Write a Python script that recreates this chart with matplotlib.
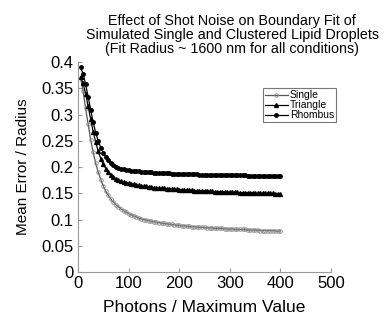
import numpy as np
import matplotlib
matplotlib.use('Agg')
import matplotlib.pyplot as plt

plt.rcParams['font.family'] = ['Liberation Sans', 'DejaVu Sans']

# photons / maximum value (step 5)
photons = np.arange(5, 401, 5)

single = [0.370, 0.345, 0.312, 0.282, 0.252, 0.228, 0.207, 0.190, 0.176, 0.164,
          0.154, 0.146, 0.139, 0.133, 0.128, 0.124, 0.120, 0.117, 0.114, 0.111,
          0.109, 0.107, 0.105, 0.103, 0.101, 0.100, 0.099, 0.098, 0.097, 0.096,
          0.095, 0.094, 0.093, 0.093, 0.092, 0.091, 0.091, 0.090, 0.089, 0.089,
          0.088, 0.088, 0.087, 0.087, 0.086, 0.086, 0.086, 0.085, 0.085, 0.085,
          0.084, 0.084, 0.084, 0.083, 0.083, 0.083, 0.083, 0.082, 0.082, 0.082,
          0.082, 0.081, 0.081, 0.081, 0.081, 0.081, 0.080, 0.080, 0.080, 0.080,
          0.080, 0.079, 0.079, 0.079, 0.079, 0.079, 0.079, 0.078, 0.078, 0.078]

triangle = [0.372, 0.360, 0.340, 0.316, 0.291, 0.267, 0.247, 0.230, 0.216, 0.205,
            0.197, 0.190, 0.185, 0.181, 0.178, 0.175, 0.173, 0.171, 0.170, 0.169,
            0.168, 0.167, 0.166, 0.165, 0.164, 0.163, 0.163, 0.162, 0.162, 0.161,
            0.161, 0.160, 0.160, 0.160, 0.159, 0.159, 0.158, 0.158, 0.158, 0.157,
            0.157, 0.157, 0.156, 0.156, 0.156, 0.155, 0.155, 0.155, 0.155, 0.154,
            0.154, 0.154, 0.154, 0.153, 0.153, 0.153, 0.153, 0.153, 0.152, 0.152,
            0.152, 0.152, 0.152, 0.151, 0.151, 0.151, 0.151, 0.151, 0.151, 0.150,
            0.150, 0.150, 0.150, 0.150, 0.150, 0.150, 0.150, 0.149, 0.149, 0.149]

rhombus = [0.390, 0.378, 0.358, 0.334, 0.309, 0.285, 0.265, 0.250, 0.237, 0.227,
           0.219, 0.213, 0.208, 0.204, 0.201, 0.199, 0.197, 0.196, 0.195, 0.194,
           0.193, 0.193, 0.192, 0.192, 0.191, 0.191, 0.190, 0.190, 0.190, 0.189,
           0.189, 0.189, 0.188, 0.188, 0.188, 0.188, 0.187, 0.187, 0.187, 0.187,
           0.187, 0.186, 0.186, 0.186, 0.186, 0.186, 0.186, 0.185, 0.185, 0.185,
           0.185, 0.185, 0.185, 0.185, 0.185, 0.184, 0.184, 0.184, 0.184, 0.184,
           0.184, 0.184, 0.184, 0.184, 0.184, 0.184, 0.183, 0.183, 0.183, 0.183,
           0.183, 0.183, 0.183, 0.183, 0.183, 0.183, 0.183, 0.183, 0.183, 0.183]

fig = plt.figure(figsize=(3.9, 3.2), dpi=100)
ax = fig.add_axes([0.2, 0.15, 0.649, 0.656])

ax.plot(photons, single, color='#555555', linewidth=0.9, marker='o', markersize=2.6,
        markerfacecolor='none', markeredgecolor='#888888', markeredgewidth=0.6, label='Single')
ax.plot(photons, triangle, color='black', linewidth=0.9, marker='^', markersize=2.8,
        label='Triangle')
ax.plot(photons, rhombus, color='black', linewidth=0.9, marker='o', markersize=2.5,
        label='Rhombus')

ax.set_xlim(0, 500)
ax.set_ylim(0, 0.4)
ax.set_xticks([0, 100, 200, 300, 400, 500])
ax.set_yticks([0, 0.05, 0.1, 0.15, 0.2, 0.25, 0.3, 0.35, 0.4])
ax.set_yticklabels(['0', '0.05', '0.1', '0.15', '0.2', '0.25', '0.3', '0.35', '0.4'])
ax.tick_params(direction='in', length=3, color='#999999', labelsize=12, pad=3)
for s in ['top', 'right']:
    ax.spines[s].set_visible(False)
for s in ['left', 'bottom']:
    ax.spines[s].set_color('#999999')
    ax.spines[s].set_linewidth(0.8)

ax.set_xlabel('Photons / Maximum Value', fontsize=12.5, labelpad=6)
ax.set_ylabel('Mean Error / Radius', fontsize=11, labelpad=8)
fig.text(0.595, 0.955, 'Effect of Shot Noise on Boundary Fit of\n'
         'Simulated Single and Clustered Lipid Droplets\n'
         '(Fit Radius ~ 1600 nm for all conditions)', fontsize=10.3, linespacing=1.0,
         ha='center', va='top')

leg = ax.legend(loc='upper left', bbox_to_anchor=(0.73, 0.875), fontsize=7.5, frameon=True,
                fancybox=False, handlelength=2.2, handletextpad=0.2, borderpad=0.2,
                labelspacing=0.0, borderaxespad=0)
leg.get_frame().set_edgecolor('#555555')
leg.get_frame().set_linewidth(0.8)

plt.savefig('out.png', dpi=100)
